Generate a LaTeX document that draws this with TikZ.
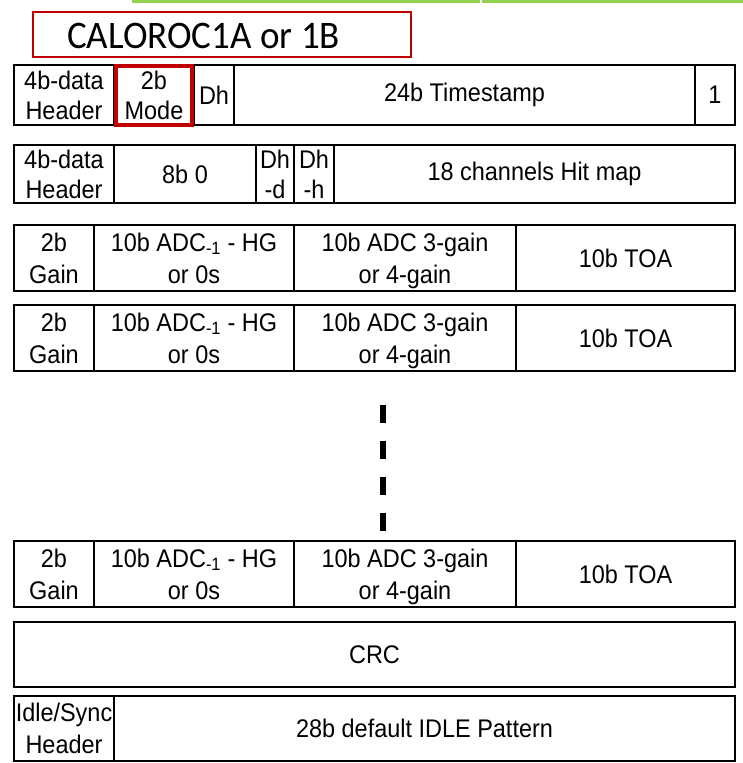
\documentclass[tikz,border=0pt]{standalone}
\usepackage{fontspec}
\setmainfont[FakeStretch=0.92]{Liberation Sans}
\newfontfamily\titlefont[FakeStretch=0.95]{Carlito}
\definecolor{titlered}{RGB}{192,0,0}
\definecolor{topgreen}{RGB}{146,208,80}
\begin{document}
\begin{tikzpicture}[x=1pt,y=-1pt,
  cell/.style={draw=black, line width=1.6pt, inner sep=0pt, align=center,
    font=\fontsize{25.5}{30}\selectfont},
  tallcell/.style={cell, text depth=0pt, font=\fontsize{25.5}{32}\selectfont},
  idlecell/.style={cell, font=\fontsize{25.5}{32}\selectfont},
  redcell/.style={cell, draw=titlered, line width=4pt},
  titlebox/.style={draw=titlered, line width=2pt, inner sep=0pt},
  greenbar/.style={fill=topgreen}
]
\useasboundingbox (0,0) rectangle (743,763);

% green bars at the top
\fill[greenbar] (132,0) rectangle (480,2.5);
\fill[greenbar] (482,0) rectangle (743,2.5);

% title
\node[titlebox, minimum width=378pt, minimum height=45pt] (title) at (222,34.5) {};
\node[anchor=base west, inner sep=0pt, font=\titlefont\fontsize{39}{42}\selectfont] (titletext) at (67,48) {CALOROC1A or 1B};

% row 1 (y 65--125)
\node[cell, minimum width=100pt, minimum height=60pt] (r1h) at (64,95) {4b-data\\Header};
\node[cell, minimum width=40pt, minimum height=60pt] (r1d) at (214,95) {Dh};
\node[cell, minimum width=461pt, minimum height=60pt] (r1t) at (464.5,95) {24b Timestamp};
\node[cell, minimum width=40pt, minimum height=60pt] (r1o) at (715,95) {1};
\node[redcell, minimum width=76pt, minimum height=59.5pt] (r1m) at (154,95.25) {2b\\Mode};

% row 2 (y 145--203)
\node[cell, minimum width=100pt, minimum height=58pt] (r2h) at (64,174) {4b-data\\Header};
\node[cell, minimum width=142pt, minimum height=58pt] (r2z) at (185,174) {8b 0};
\node[cell, minimum width=38pt, minimum height=58pt] (r2dd) at (275,174) {Dh\\-d};
\node[cell, minimum width=40pt, minimum height=58pt] (r2dh) at (314,174) {Dh\\-h};
\node[cell, minimum width=401pt, minimum height=58pt] (r2m) at (534.5,174) {18 channels Hit map};

% hit rows
\foreach \rid/\yc in {a/258, b/338, c/574} {
  \node[tallcell, minimum width=80pt, minimum height=66pt] (\rid g) at (54,\yc) {2b\\Gain};
  \node[tallcell, minimum width=200pt, minimum height=66pt] (\rid l) at (194,\yc) {10b ADC\textsubscript{-1} - HG\\or 0s};
  \node[tallcell, minimum width=222pt, minimum height=66pt] (\rid m) at (405,\yc) {10b ADC 3-gain\\or 4-gain};
  \node[tallcell, minimum width=219pt, minimum height=66pt] (\rid t) at (625.5,\yc) {10b TOA};
}

% dashed continuation mark
\coordinate (dtop) at (383,405);
\coordinate (dbot) at (383,531);
\draw[line width=6pt, dash pattern=on 18pt off 18pt] (dtop) -- (dbot);

% CRC
\node[cell, minimum width=721pt, minimum height=65pt] (crc) at (374.5,654.5) {CRC};

% idle row (y 696--761)
\node[idlecell, minimum width=100pt, minimum height=65pt] (idh) at (64,728.5) {Idle/Sync\\Header};
\node[cell, minimum width=621pt, minimum height=65pt] (idp) at (424.5,728.5) {28b default IDLE Pattern};
\end{tikzpicture}
\end{document}
